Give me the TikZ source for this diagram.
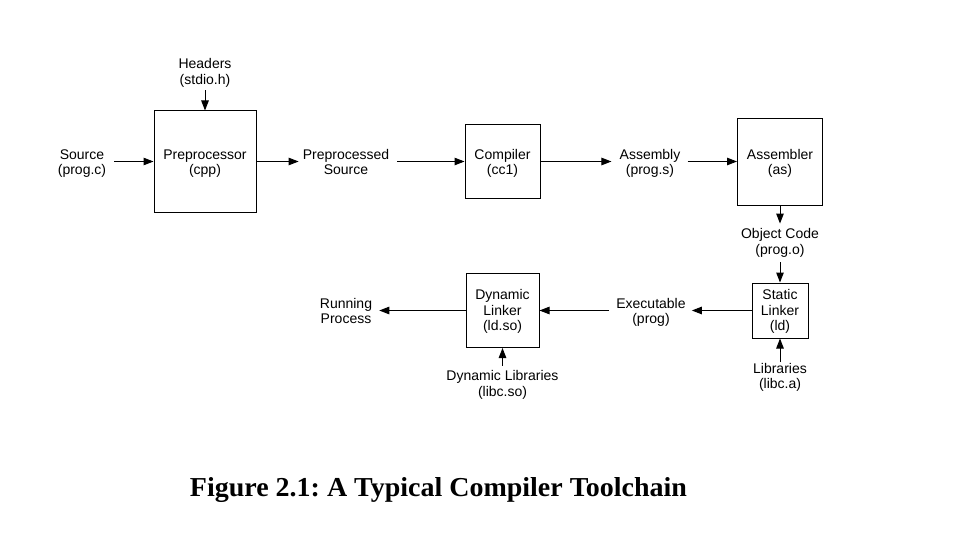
\documentclass[tikz,border=0pt]{standalone}
\usepackage{fontspec}
\setmainfont{Liberation Sans}
\newfontfamily\capfont{Liberation Serif}
\usetikzlibrary{arrows.meta}
\newcommand{\twolines}[2]{\rule{0pt}{14pt}#1\\#2\rule[-3pt]{0pt}{3pt}}
\newcommand{\threelines}[3]{\rule{0pt}{12pt}#1\\#2\\#3\rule[-3pt]{0pt}{3pt}}
\begin{document}
\begin{tikzpicture}[x=1pt,y=-1pt,
  lbl/.style={inner sep=0pt,align=center,font=\fontsize{14}{15.5}\selectfont},
  stage/.style={draw,line width=1pt,inner sep=0pt,align=center,font=\fontsize{14}{15.5}\selectfont},
  flow/.style={line width=1pt,-{Triangle[length=10pt,width=7.5pt]}}]
\useasboundingbox (0,0) rectangle (970,535);
% stages
\node[stage,minimum width=102pt,minimum height=101pt] (pre) at (205,161.5) {\twolines{Preprocessor}{(cpp)}};
\node[stage,minimum width=75pt,minimum height=74pt] (cc) at (502.5,161.5) {\twolines{Compiler}{(cc1)}};
\node[stage,minimum width=85pt,minimum height=87pt] (as) at (780,161.5) {\twolines{Assembler}{(as)}};
\node[stage,minimum width=56pt,minimum height=55pt] (ld) at (780,310.5) {\threelines{Static}{Linker}{(ld)}};
\node[stage,minimum width=73pt,minimum height=74pt] (dl) at (502.5,310.5) {\threelines{Dynamic}{Linker}{(ld.so)}};
% labels
\node[lbl] (hdr) at (205,71) {\twolines{Headers}{(stdio.h)}};
\node[lbl] (src) at (82,161.5) {\twolines{Source}{(prog.c)}};
\node[lbl] (pps) at (346,161.5) {\twolines{Preprocessed}{Source}};
\node[lbl] (asm) at (650,161.5) {\twolines{Assembly}{(prog.s)}};
\node[lbl] (obj) at (780,241) {\twolines{Object Code}{(prog.o)}};
\node[lbl] (lib) at (780,375.5) {\twolines{Libraries}{(libc.a)}};
\node[lbl] (exe) at (651,310.5) {\twolines{Executable}{(prog)}};
\node[lbl] (dlib) at (502.5,383) {\twolines{Dynamic Libraries}{(libc.so)}};
\node[lbl] (run) at (346,310.5) {\twolines{Running}{Process}};
% connectors
\draw[flow,shorten <=3pt] (hdr.south) -- (pre.north);
\draw[flow,shorten <=8pt] (src.east) -- (pre.west);
\draw[flow,shorten >=4pt] (pre.east) -- (pps.west);
\draw[flow,shorten <=8pt] (pps.east) -- (cc.west);
\draw[flow,shorten >=8pt] (cc.east) -- (asm.west);
\draw[flow,shorten <=7pt] (asm.east) -- (as.west);
\draw[flow,shorten >=1pt] (as.south) -- (obj.north);
\draw[flow,shorten <=5pt] (obj.south) -- (ld.north);
\draw[flow,shorten <=-3pt] (lib.north) -- (ld.south);
\draw[flow,shorten >=6pt] (ld.west) -- (exe.east);
\draw[flow,shorten <=7pt] (exe.west) -- (dl.east);
\draw[flow,shorten <=1pt] (dlib.north) -- (dl.south);
\draw[flow,shorten >=7pt] (dl.west) -- (run.east);
% caption
\node[inner sep=0pt,anchor=base] (cap) at (438.5,496) {\resizebox{497pt}{19pt}{\capfont\bfseries\frenchspacing Figure 2.1: A Typical Compiler Toolchain}};
\end{tikzpicture}
\end{document}
